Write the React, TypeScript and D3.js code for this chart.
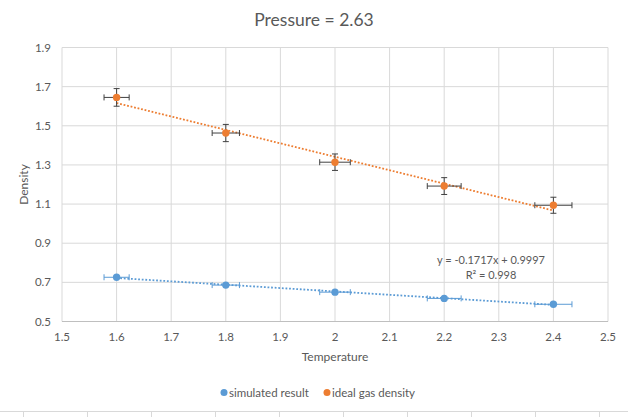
import React from 'react';
import * as d3 from 'd3';

const temperatures = [1.6, 1.8, 2.0, 2.2, 2.4];
const simulated = [0.726, 0.686, 0.650, 0.618, 0.588];
const idealGas = [1.645, 1.463, 1.314, 1.192, 1.094];
const idealYErr = [0.045, 0.044, 0.042, 0.043, 0.041];
const tempErr = [0.023, 0.025, 0.028, 0.031, 0.034];
const xTicks = [1.5, 1.6, 1.7, 1.8, 1.9, 2.0, 2.1, 2.2, 2.3, 2.4, 2.5];
const yTicks = [0.5, 0.7, 0.9, 1.1, 1.3, 1.5, 1.7, 1.9];
const seriesNames = ['simulated result', 'ideal gas density'];
const trendText = ['y = -0.1717x + 0.9997', 'R² = 0.998'];

const W = 628;
const H = 417;
const margin = { top: 47.5, right: 20, bottom: 95.5, left: 62 };
const BLUE = '#5B9BD5';
const ORANGE = '#ED7D31';
const TEXT = '#595959';
const GRID = '#D9D9D9';
const FONT = 'Lato, Calibri, sans-serif';

function fit(xs: number[], ys: number[]) {
  const mx = d3.mean(xs)!;
  const my = d3.mean(ys)!;
  const num = d3.sum(xs, (x, i) => (x - mx) * (ys[i] - my));
  const den = d3.sum(xs, x => (x - mx) ** 2);
  const slope = num / den;
  return (x: number) => my + slope * (x - mx);
}

export default function App() {
  const x = d3.scaleLinear().domain([1.5, 2.5]).range([margin.left, W - margin.right]);
  const y = d3.scaleLinear().domain([0.5, 1.9]).range([H - margin.bottom, margin.top]);

  const line = d3.line<number>().x(d => x(d[0])).y(d => y(d[1]));
  const ends = d3.extent(temperatures) as [number, number];
  const fitSim = fit(temperatures, simulated);
  const fitIdeal = fit(temperatures, idealGas);
  const trendSim = line(ends.map(t => [t, fitSim(t)]) as any) || '';
  const trendIdeal = line(ends.map(t => [t, fitIdeal(t)]) as any) || '';

  const cap = 3;
  const cellLines = d3.range(23.5, W, 64);

  return (
    <svg width={W} height={H} style={{ position: 'fixed', left: 0, top: 0, background: '#fff' }} fontFamily={FONT}>
      <rect width={W} height={H} fill="#fff" />
      <text x={314} y={26} textAnchor="middle" fontSize={17.5} fill={TEXT}>Pressure = 2.63</text>

      {xTicks.map(t => (
        <line key={'gx' + t} x1={x(t)} x2={x(t)} y1={y(1.9)} y2={y(0.5)} stroke={GRID} strokeWidth={1} />
      ))}
      {yTicks.map(t => (
        <line key={'gy' + t} x1={x(1.5)} x2={x(2.5)} y1={y(t)} y2={y(t)} stroke={GRID} strokeWidth={1} />
      ))}
      <line x1={x(1.5)} x2={x(2.5)} y1={y(0.5)} y2={y(0.5)} stroke="#BFBFBF" strokeWidth={1} />

      {yTicks.map(t => (
        <text key={'ty' + t} x={51} y={y(t) + 4} textAnchor="end" fontSize={11.5} fill={TEXT}>{t.toFixed(1)}</text>
      ))}
      {xTicks.map(t => (
        <text key={'tx' + t} x={x(t)} y={341} textAnchor="middle" fontSize={11.5} fill={TEXT}>
          {t === 2 ? '2' : t.toFixed(1)}
        </text>
      ))}

      <text x={335} y={361} textAnchor="middle" fontSize={12} fill={TEXT}>Temperature</text>
      <text transform={`translate(28, ${(y(0.5) + y(1.9)) / 2}) rotate(-90)`} textAnchor="middle" fontSize={12} fill={TEXT}>Density</text>

      <path d={trendIdeal} fill="none" stroke={ORANGE} strokeWidth={1.8} strokeDasharray="1.8 1.8" />
      <path d={trendSim} fill="none" stroke={BLUE} strokeWidth={1.8} strokeDasharray="1.8 1.8" />

      {temperatures.map((t, i) => (
        <g key={'ei' + t} stroke="#404040" strokeWidth={1}>
          <line x1={x(t)} x2={x(t)} y1={y(idealGas[i] - idealYErr[i])} y2={y(idealGas[i] + idealYErr[i])} />
          <line x1={x(t) - cap} x2={x(t) + cap} y1={y(idealGas[i] - idealYErr[i])} y2={y(idealGas[i] - idealYErr[i])} />
          <line x1={x(t) - cap} x2={x(t) + cap} y1={y(idealGas[i] + idealYErr[i])} y2={y(idealGas[i] + idealYErr[i])} />
          <line x1={x(t - tempErr[i])} x2={x(t + tempErr[i])} y1={y(idealGas[i])} y2={y(idealGas[i])} />
          <line x1={x(t - tempErr[i])} x2={x(t - tempErr[i])} y1={y(idealGas[i]) - cap} y2={y(idealGas[i]) + cap} />
          <line x1={x(t + tempErr[i])} x2={x(t + tempErr[i])} y1={y(idealGas[i]) - cap} y2={y(idealGas[i]) + cap} />
        </g>
      ))}
      {temperatures.map((t, i) => (
        <g key={'es' + t} stroke={BLUE} strokeWidth={1}>
          <line x1={x(t - tempErr[i])} x2={x(t + tempErr[i])} y1={y(simulated[i])} y2={y(simulated[i])} />
          <line x1={x(t - tempErr[i])} x2={x(t - tempErr[i])} y1={y(simulated[i]) - cap} y2={y(simulated[i]) + cap} />
          <line x1={x(t + tempErr[i])} x2={x(t + tempErr[i])} y1={y(simulated[i]) - cap} y2={y(simulated[i]) + cap} />
        </g>
      ))}

      {temperatures.map((t, i) => (
        <circle key={'ps' + t} cx={x(t)} cy={y(simulated[i])} r={3.7} fill={BLUE} />
      ))}
      {temperatures.map((t, i) => (
        <circle key={'pi' + t} cx={x(t)} cy={y(idealGas[i])} r={3.7} fill={ORANGE} />
      ))}

      <text x={491} y={264} textAnchor="middle" fontSize={11} fill={TEXT}>{trendText[0]}</text>
      <text x={491} y={279} textAnchor="middle" fontSize={11} fill={TEXT}>{trendText[1]}</text>

      <circle cx={224} cy={392.5} r={3.5} fill={BLUE} />
      <text x={229} y={396.5} fontSize={11.5} fill={TEXT}>{seriesNames[0]}</text>
      <circle cx={327} cy={392.5} r={3.5} fill={ORANGE} />
      <text x={332} y={396.5} fontSize={11.5} fill={TEXT}>{seriesNames[1]}</text>

      <line x1={0} x2={W} y1={411.5} y2={411.5} stroke={GRID} strokeWidth={1} />
      {cellLines.map(cx => (
        <line key={'c' + cx} x1={cx} x2={cx} y1={411.5} y2={H} stroke={GRID} strokeWidth={1} />
      ))}
    </svg>
  );
}
